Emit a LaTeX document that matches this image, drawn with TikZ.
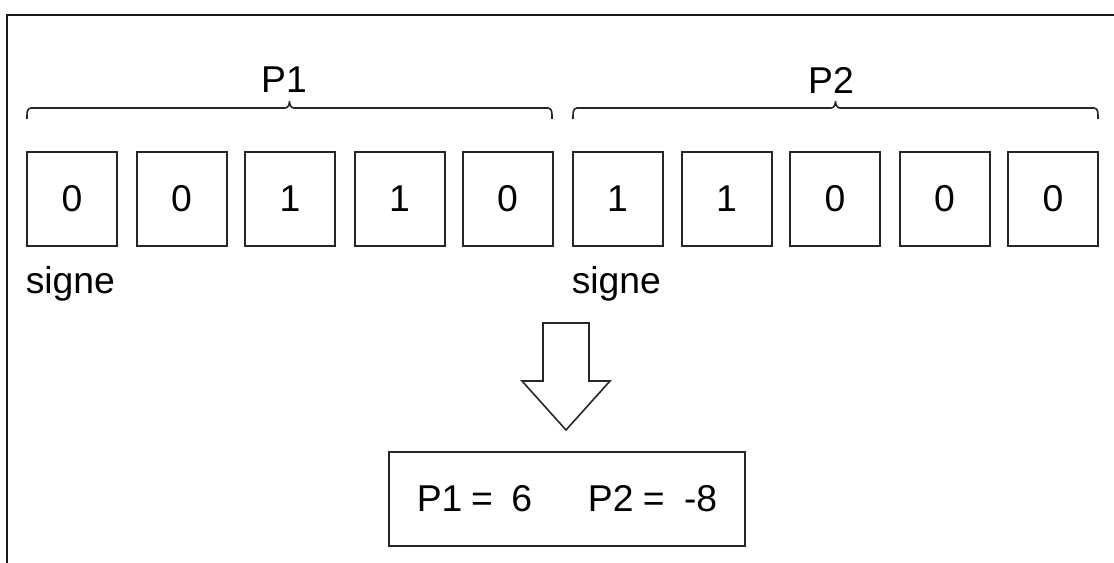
\documentclass[tikz,border=0pt]{standalone}
\usepackage{fontspec}
\setmainfont{Liberation Sans}
\begin{document}
\begin{tikzpicture}[x=0.75pt,y=-0.75pt,
  line join=miter,
  txt/.style={font=\fontsize{28}{32}\selectfont},
  bit/.style={txt, draw=black!85, line width=1.5pt, minimum width=67.5pt, minimum height=70.5pt,
    inner sep=0pt},
  lbl/.style={txt, inner sep=0pt},
  brace/.style={draw=black!85, line width=1.2pt},
  result/.style={txt, draw=black!85, line width=1.5pt, minimum width=267pt, minimum height=70.5pt,
    inner sep=0pt}]
\useasboundingbox (0,0) rectangle (1114,563);
% outer frame (only top and left sides fall inside the view)
\draw[black!90, line width=1.6pt] (1120,15) -- (7,15) -- (7,570);
% bit cells
\node[bit] (b1)  at (72,199)    {0};
\node[bit] (b2)  at (181.5,199) {0};
\node[bit] (b3)  at (290,199)   {1};
\node[bit] (b4)  at (399.5,199) {1};
\node[bit] (b5)  at (507.5,199) {0};
\node[bit] (b6)  at (617.5,199) {1};
\node[bit] (b7)  at (726.5,199) {1};
\node[bit] (b8)  at (835,199)   {0};
\node[bit] (b9)  at (944.5,199) {0};
\node[bit] (b10) at (1053,199)  {0};
% braces over each half
\draw[brace] (27,119) to[out=90,in=180] (31,108) -- (285,108)
  to[out=0,in=-90] (289.5,101) to[out=-90,in=180] (294,108) -- (548,108)
  to[out=0,in=90] (552,119);
\draw[brace] (573,119) to[out=90,in=180] (577,108) -- (831,108)
  to[out=0,in=-90] (835.5,101) to[out=-90,in=180] (840,108) -- (1094,108)
  to[out=0,in=90] (1098,119);
\node[lbl] (p1) at (284,80) {P1};
\node[lbl] (p2) at (831,80) {P2};
% sign labels
\node[lbl, anchor=west] (s1) at (25.5,284) {signe};
\node[lbl, anchor=west] (s2) at (571.5,284) {signe};
% block arrow
\draw[black!85, line width=1.2pt] (543,323) -- (589,323) -- (589,381) -- (610,381)
  -- (566,430) -- (522,381) -- (543,381) -- cycle;
% result
\node[result] (res) at (567,499)
  {P1\hspace{6.5pt}=\hspace{13.9pt}6\hspace{41.8pt}P2\hspace{7pt}=\hspace{14.5pt}-8\hspace{4.2pt}};
\end{tikzpicture}
\end{document}
